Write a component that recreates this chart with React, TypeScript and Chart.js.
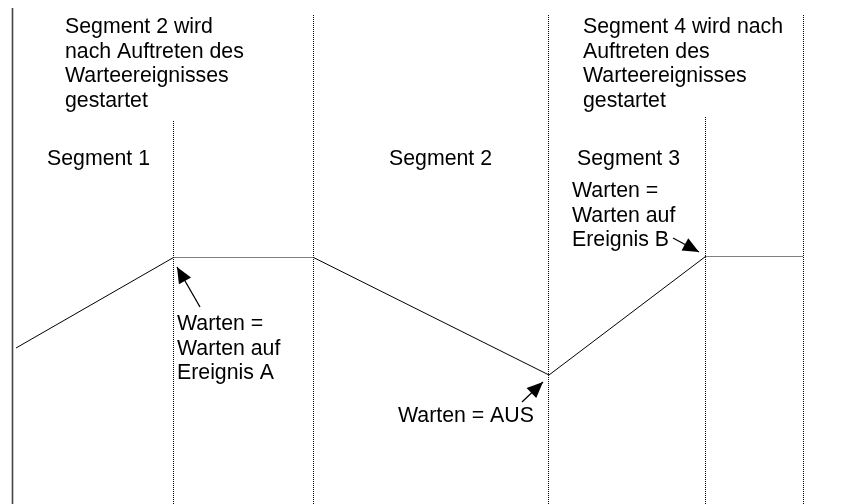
import React, { useEffect, useRef } from "react";
import { Chart, registerables } from "chart.js";

Chart.register(...registerables);

// Diagram coordinates (x: 0..866, y: 0..504 top-down)
const profileX = [16, 173.5, 313.5, 549, 705.5, 803.5];
const profileY = [348, 257.5, 257.5, 375, 256.5, 256.5];
const dottedSegments = [1, 4];

const guideX = [173.5, 313.5, 548.5, 705.5, 803.5];
const guideTop = [121, 15, 15, 117, 15];
const guideBottom = [504, 504, 504, 504, 504];

const axisX = [12.5, 12.5];
const axisY = [8, 504];

const arrowTailX = [200, 522, 673];
const arrowTailY = [307, 402, 238];
const arrowTipX = [177, 543, 699];
const arrowTipY = [267, 382, 252];

const labelTexts = [
  ["Segment 2 wird", "nach Auftreten des", "Warteereignisses", "gestartet"],
  ["Segment 1"],
  ["Segment 2"],
  ["Segment 3"],
  ["Segment 4 wird nach", "Auftreten des", "Warteereignisses", "gestartet"],
  ["Warten =", "Warten auf", "Ereignis B"],
  ["Warten =", "Warten auf", "Ereignis A"],
  ["Warten = AUS"],
];
const labelX = [65, 47, 389, 577, 583, 572, 177, 398];
const labelY = [33, 165, 165, 165, 33, 197, 330, 422];
const LINE_STEP = 24.6;

const FONT = '21.3px "Liberation Sans", Arial, Helvetica, sans-serif';

const arrowPlugin = {
  id: "arrowHeads",
  afterDatasetsDraw(chart: any) {
    const ctx = chart.ctx;
    chart.data.datasets.forEach((ds: any, i: number) => {
      if (!ds.arrow) return;
      const meta = chart.getDatasetMeta(i);
      const pts = meta.data;
      if (!pts || pts.length < 2) return;
      const a = pts[0];
      const b = pts[pts.length - 1];
      const ang = Math.atan2(b.y - a.y, b.x - a.x);
      const len = 16;
      const hw = 7;
      const bx = b.x - len * Math.cos(ang);
      const by = b.y - len * Math.sin(ang);
      ctx.save();
      ctx.fillStyle = "#000";
      ctx.beginPath();
      ctx.moveTo(b.x, b.y);
      ctx.lineTo(bx + hw * Math.sin(ang), by - hw * Math.cos(ang));
      ctx.lineTo(bx - hw * Math.sin(ang), by + hw * Math.cos(ang));
      ctx.closePath();
      ctx.fill();
      ctx.restore();
    });
  },
};

const labelPlugin = {
  id: "textLabels",
  afterDraw(chart: any) {
    const ctx = chart.ctx;
    const xs = chart.scales.x;
    const ys = chart.scales.y;
    ctx.save();
    ctx.font = FONT;
    ctx.fillStyle = "#000";
    ctx.textAlign = "left";
    ctx.textBaseline = "alphabetic";
    labelTexts.forEach((lines, i) => {
      lines.forEach((t, j) => {
        const px = xs.getPixelForValue(labelX[i]);
        const py = ys.getPixelForValue(labelY[i] + j * LINE_STEP);
        ctx.fillText(t, px, py);
      });
    });
    ctx.restore();
  },
};

export default function App() {
  const ref = useRef<HTMLCanvasElement | null>(null);

  useEffect(() => {
    if (!ref.current) return;
    const datasets: any[] = [];

    datasets.push({
      data: axisX.map((x, i) => ({ x, y: axisY[i] })),
      borderColor: "#444",
      borderWidth: 1.6,
      pointRadius: 0,
      fill: false,
    });

    guideX.forEach((x, i) => {
      datasets.push({
        data: [
          { x, y: guideTop[i] },
          { x, y: guideBottom[i] },
        ],
        borderColor: "#000",
        borderWidth: 1,
        borderDash: [1, 1],
        pointRadius: 0,
        fill: false,
      });
    });

    datasets.push({
      data: profileX.map((x, i) => ({ x, y: profileY[i] })),
      borderColor: "#000",
      borderWidth: 1,
      pointRadius: 0,
      fill: false,
      tension: 0,
      segment: {
        borderDash: (c: any) =>
          dottedSegments.includes(c.p0DataIndex) ? [1, 1] : undefined,
      },
    });

    arrowTailX.forEach((x, i) => {
      datasets.push({
        arrow: true,
        data: [
          { x, y: arrowTailY[i] },
          { x: arrowTipX[i], y: arrowTipY[i] },
        ],
        borderColor: "#000",
        borderWidth: 1.3,
        pointRadius: 0,
        fill: false,
      });
    });

    const chart = new Chart(ref.current, {
      type: "line",
      data: { datasets },
      options: {
        animation: false,
        responsive: false,
        devicePixelRatio: 1,
        layout: { padding: 0 },
        plugins: {
          legend: { display: false },
          tooltip: { enabled: false },
          title: { display: false },
        },
        events: [],
        scales: {
          x: { type: "linear", min: 0, max: 866, display: false },
          y: { type: "linear", min: 0, max: 504, reverse: true, display: false },
        },
      },
      plugins: [arrowPlugin, labelPlugin],
    } as any);

    return () => chart.destroy();
  }, []);

  return (
    <div
      style={{
        position: "fixed",
        left: 0,
        top: 0,
        width: 866,
        height: 504,
        background: "#fff",
      }}
    >
      <canvas ref={ref} width={866} height={504} style={{ display: "block" }} />
    </div>
  );
}
